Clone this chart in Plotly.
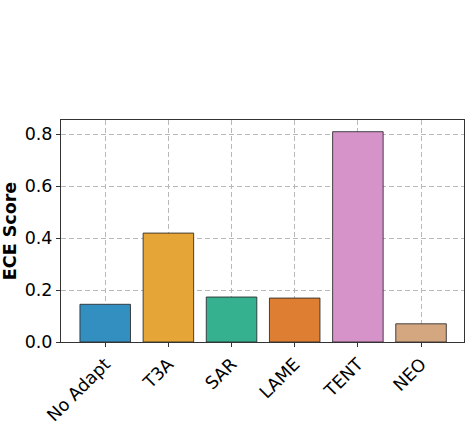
import plotly.graph_objects as go

methods = ["No Adapt", "T3A", "SAR", "LAME", "TENT", "NEO"]
ece = [0.145, 0.419, 0.173, 0.169, 0.809, 0.070]
colors = ["#348fc1", "#e5a537", "#35b18f", "#dd7e33", "#d693c9", "#d5a781"]

fig = go.Figure()
fig.add_trace(go.Bar(
    x=methods, y=ece, width=0.8,
    marker=dict(color=colors, line=dict(color="rgba(40,40,40,0.85)", width=1)),
))

axis_common = dict(
    showline=True, linecolor="#333333", linewidth=1, mirror=True,
    showgrid=True, gridcolor="#b8b8b8", griddash="5px,3px", gridwidth=1.2,
    ticks="outside", ticklen=4, tickcolor="#333333",
    tickfont=dict(family="DejaVu Sans", size=17.5, color="black"),
    layer="above traces", zeroline=False, automargin=False,
)

fig.update_layout(
    width=472, height=424,
    margin=dict(l=61, r=8, t=120, b=82),
    plot_bgcolor="white", paper_bgcolor="white",
    showlegend=False,
    xaxis=dict(range=[-0.7, 5.68], tickangle=-45, **axis_common),
    yaxis=dict(range=[0, 0.854], tickvals=[0, 0.2, 0.4, 0.6, 0.8],
               ticktext=["0.0", "0.2", "0.4", "0.6", "0.8"],
               title=dict(text="<b>ECE Score</b>", font=dict(family="DejaVu Sans", size=17.5, color="black"), standoff=4),
               **axis_common),
)

fig.write_html("out.html")
